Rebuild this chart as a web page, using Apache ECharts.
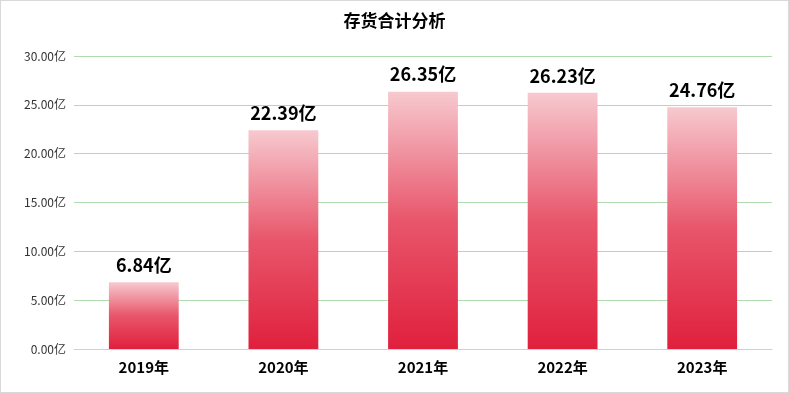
<!DOCTYPE html>
<html><head><meta charset="utf-8">
<script src="https://cdn.jsdelivr.net/npm/echarts@6/dist/echarts.min.js"></script>
<style>html,body{margin:0;padding:0;background:#fff}#c{width:787px;height:391px;border:1px solid #d9d9d9}</style>
</head><body><div id="c"></div>
<script>
const categories = ['2019年','2020年','2021年','2022年','2023年'];
const values = [6.84, 22.39, 26.35, 26.23, 24.76];
const yTicks = [0, 5, 10, 15, 20, 25, 30];
const chart = echarts.init(document.getElementById('c'));
chart.setOption({
  animation: false,
  title: {text: '存货合计分析', left: 'center', top: 6,
    textStyle: {fontSize: 17, fontWeight: 'bold', color: '#000', fontFamily: '"Noto Sans CJK SC", sans-serif'}},
  grid: {left: 73, right: 16, top: 55, bottom: 43},
  xAxis: {type: 'category', data: categories,
    axisLine: {lineStyle: {color: '#d0d0d0'}}, axisTick: {show: false},
    axisLabel: {color: '#000', fontWeight: 'bold', fontSize: 15, margin: 11, fontFamily: '"Noto Sans CJK SC", sans-serif'}},
  yAxis: {type: 'value', min: yTicks[0], max: yTicks[yTicks.length-1], interval: 5,
    axisLine: {show: false}, axisTick: {show: false},
    splitLine: {lineStyle: {color: '#b0dbb0'}},
    axisLabel: {color: '#333', fontSize: 12, margin: 8, fontFamily: '"Noto Sans CJK SC", sans-serif',
      formatter: v => v.toFixed(2) + '亿'}},
  series: [{type: 'bar', data: values, barWidth: '50%',
    itemStyle: {color: new echarts.graphic.LinearGradient(0,0,0,1,[
      {offset: 0, color: '#f7c9cf'}, {offset: 0.5, color: '#e8566b'}, {offset: 1, color: '#e0203d'}])},
    label: {show: true, position: 'top', distance: 8, color: '#000', fontWeight: 'bold', fontSize: 18,
      fontFamily: '"Noto Sans CJK SC", sans-serif', formatter: p => p.value.toFixed(2) + '亿'}}]
});
</script></body></html>
